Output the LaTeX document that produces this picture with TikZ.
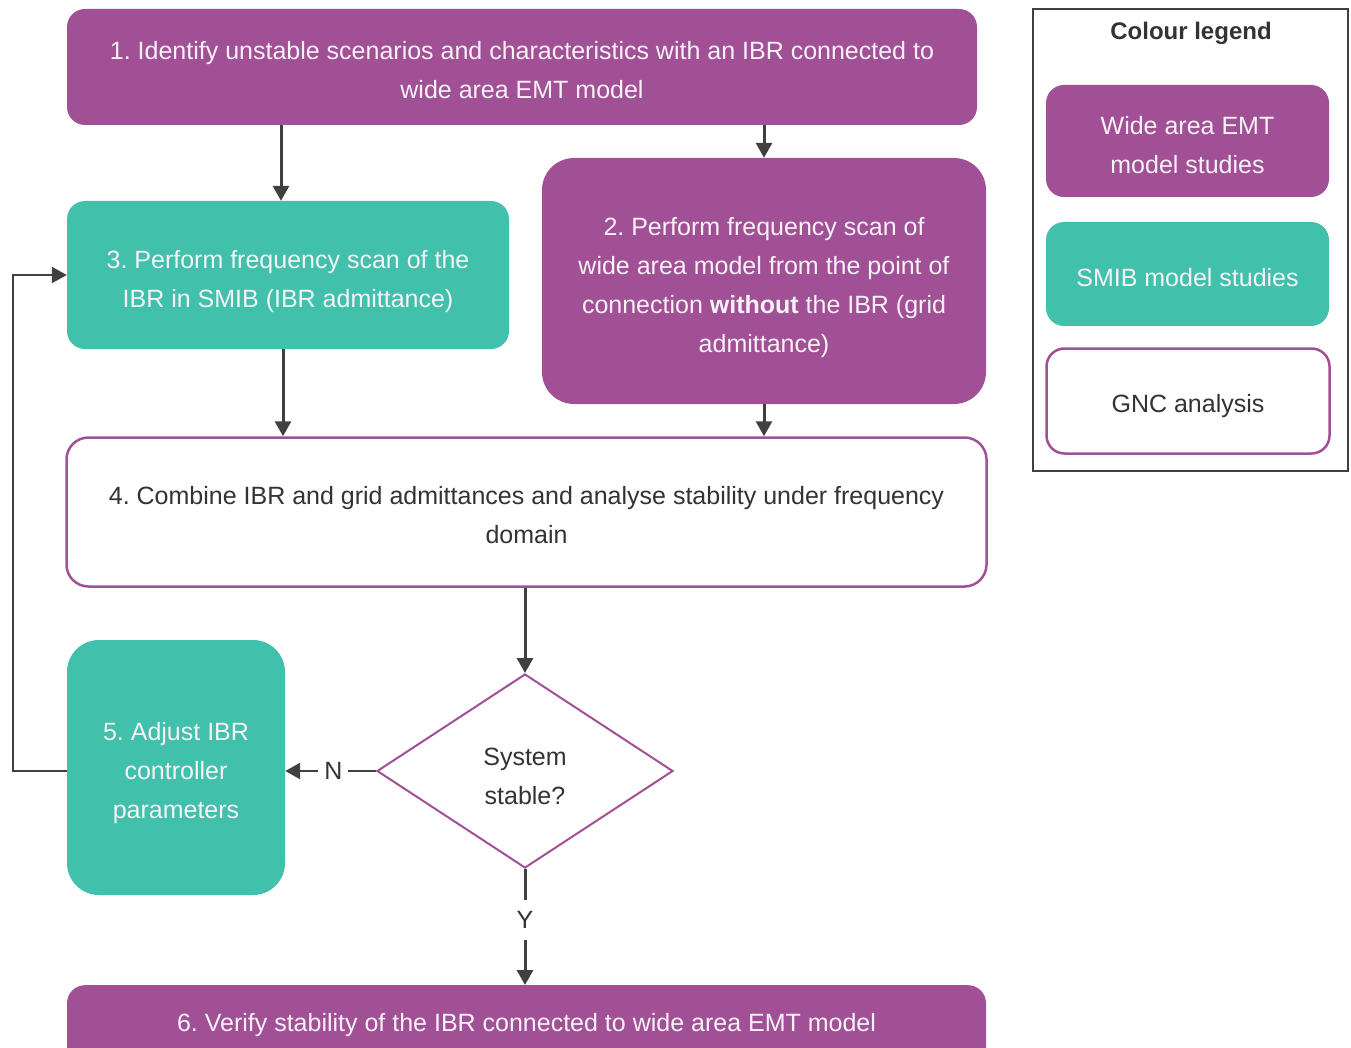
\documentclass[tikz,border=0pt]{standalone}
\usepackage{fontspec}
\setmainfont{Liberation Sans}
\usetikzlibrary{arrows.meta,shapes.geometric}
\definecolor{purp}{HTML}{A25096}
\definecolor{tealb}{HTML}{41C1AB}
\definecolor{arrc}{HTML}{404040}
\definecolor{txt}{HTML}{333333}
\definecolor{ltxt}{HTML}{F7F2F7}
\frenchspacing
\tikzset{
  base/.style={rounded corners=18pt, inner sep=0pt},
  wide/.style={base, fill=purp},
  smib/.style={base, fill=tealb},
  gnc/.style={base, draw=purp, line width=2.5pt, fill=white},
  lt/.style={align=center, inner sep=0pt, text=ltxt, font=\fontsize{25}{39}\selectfont},
  dt/.style={lt, text=txt},
  arr/.style={-{Triangle[length=15pt,width=16pt]}, line width=3pt, draw=arrc},
  lbl/.style={fill=white, text=txt, font=\fontsize{25}{26}\selectfont},
}
\begin{document}
\begin{tikzpicture}[x=1pt,y=-1pt]
\clip (0,0) rectangle (1351,1048);
\fill[white] (0,0) rectangle (1351,1048);

% main flow
\node[wide, minimum width=910pt, minimum height=116pt,
  label={[lt, yshift=-3.5pt]center:{1. Identify unstable scenarios and characteristics with an IBR connected to\\wide area EMT model}}] (b1) at (522,67) {};
\node[smib, minimum width=442pt, minimum height=148pt,
  label={[lt, yshift=-7pt]center:{3. Perform frequency scan of the\\IBR in SMIB (IBR admittance)}}] (b3) at (288,275) {};
\node[wide, rounded corners=32pt, minimum width=444pt, minimum height=246pt,
  label={[lt, yshift=-7pt]center:{2. Perform frequency scan of\\wide area model from the point of\\connection \textbf{without} the IBR (grid\\admittance)}}] (b2) at (764,281) {};
\node[gnc, rounded corners=22pt, minimum width=920pt, minimum height=149pt,
  label={[dt, yshift=-3pt]center:{4. Combine IBR and grid admittances and analyse stability under frequency\\domain}}] (b4) at (526.5,512) {};
\node[smib, rounded corners=32pt, minimum width=218pt, minimum height=255pt,
  label={[lt, yshift=-6pt]center:{5. Adjust IBR\\controller\\parameters}}] (b5) at (176,767.5) {};
\node[diamond, draw=purp, line width=2pt, fill=white, inner sep=0pt,
  minimum width=296pt, minimum height=194pt,
  label={[dt, yshift=-5pt]center:{System\\stable?}}] (dia) at (525,771) {};
\node[wide, minimum width=919pt, minimum height=90pt, anchor=north,
  label={[lt, yshift=5pt]center:{6. Verify stability of the IBR connected to wide area EMT model}}] (b6) at (526.5,985) {};

% connectors
\coordinate (xa) at (281,0);
\coordinate (xb) at (764,0);
\coordinate (xc) at (283,0);
\draw[arr] (b1.south -| xa) -- (b3.north -| xa);
\draw[arr] (b1.south -| xb) -- (b2.north -| xb);
\draw[arr] (b3.south -| xc) -- (b4.north -| xc);
\draw[arr] (b2.south -| xb) -- (b4.north -| xb);
\draw[arr] (b4.south -| dia.north) -- (dia.north);
\draw[arr, line width=2.5pt] (dia.west) -- node[lbl, pos=0.47, inner xsep=6pt, inner ysep=2pt] (nl) {N} (dia.west -| b5.east);
\draw[arr] (dia.south) -- node[lbl, pos=0.44, inner xsep=2pt, inner ysep=11pt] (yl) {Y} (b6.north -| dia.south);
\coordinate (fb) at (13,0);
\draw[arr, line width=2.2pt] (dia.west -| b5.west) -- (dia.west -| fb) |- (b3.west);

% legend
\node[draw=arrc, line width=2.2pt, minimum width=315pt, minimum height=462pt, inner sep=0pt] (leg) at (1190.5,240) {};
\node[text=txt, font=\bfseries\fontsize{24}{26}\selectfont] (legt) at (1191,33) {Colour legend};
\node[wide, minimum width=283pt, minimum height=112pt,
  label={[lt, yshift=-4pt]center:{Wide area EMT\\model studies}}] (l1) at (1187.5,141) {};
\node[smib, minimum width=283pt, minimum height=104pt,
  label={[lt, yshift=-4pt]center:{SMIB model studies}}] (l2) at (1187.5,274) {};
\node[gnc, minimum width=283pt, minimum height=105pt,
  label={[dt, yshift=-5pt]center:{GNC analysis}}] (l3) at (1188,401) {};
\end{tikzpicture}
\end{document}
